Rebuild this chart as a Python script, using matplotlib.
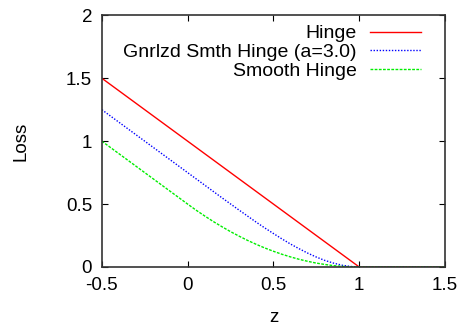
#!/usr/bin/env python3
import matplotlib
matplotlib.use('Agg')
import matplotlib.pyplot as plt

plt.rcParams['font.family'] = ['Liberation Sans', 'DejaVu Sans']

# hinge loss: corner points
hinge_z = [-0.5, 1.0, 1.5]
hinge_loss = [1.5, 0.0, 0.0]

# curve samples
curve_z = [-0.5, 0.0, 0.05, 0.1, 0.15, 0.2, 0.25, 0.3, 0.35, 0.4, 0.45, 0.5,
           0.55, 0.6, 0.65, 0.7, 0.75, 0.8, 0.85, 0.9, 0.95, 1.0, 1.5]
gen_smooth_loss = [1.25, 0.75, 0.700, 0.650, 0.600, 0.550, 0.501, 0.452, 0.404,
                   0.356, 0.310, 0.266, 0.223, 0.182, 0.145, 0.110, 0.079,
                   0.052, 0.031, 0.014, 0.004, 0.0, 0.0]
smooth_loss = [1.0, 0.5, 0.451, 0.405, 0.361, 0.320, 0.281, 0.245, 0.211,
               0.180, 0.151, 0.125, 0.101, 0.080, 0.061, 0.045, 0.031, 0.020,
               0.011, 0.005, 0.001, 0.0, 0.0]

xticks = [-0.5, 0, 0.5, 1, 1.5]
xtick_labels = ['-0.5', '0', '0.5', '1', '1.5']
yticks = [0, 0.5, 1, 1.5, 2]
ytick_labels = ['0', '0.5', '1', '1.5', '2']

fs = 13.5

fig = plt.figure(figsize=(4.65, 3.26), dpi=100)
ax = fig.add_axes([0.219, 0.181, 0.738, 0.772])

ax.plot(hinge_z, hinge_loss, color='#ff0000', lw=1.0, label='Hinge')
ax.plot(curve_z, gen_smooth_loss, color='#0000ff', lw=1.0, ls=(0, (1, 1.2)),
        label='Gnrlzd Smth Hinge (a=3.0)')
ax.plot(curve_z, smooth_loss, color='#00ee00', lw=1.0, ls=(0, (2, 1)),
        label='Smooth Hinge')

ax.set_xlim(-0.5, 1.5)
ax.set_ylim(0, 2)
ax.set_xticks(xticks)
ax.set_xticklabels(xtick_labels)
ax.set_yticks(yticks)
ax.set_yticklabels(ytick_labels)
ax.tick_params(direction='in', top=True, right=True, labelsize=fs, length=4, pad=7)
for s in ax.spines.values():
    s.set_linewidth(1.2)
    s.set_color('#333333')

ax.set_xlabel('z', fontsize=fs, labelpad=11)
ax.set_ylabel('Loss', fontsize=fs, labelpad=26)

ax.legend(loc='upper right', bbox_to_anchor=(0.93, 0.962), frameon=False,
          markerfirst=False, fontsize=14, handlelength=2.6, labelspacing=0.05,
          borderaxespad=0, borderpad=0, handletextpad=0.7)

fig.savefig('out.png')
